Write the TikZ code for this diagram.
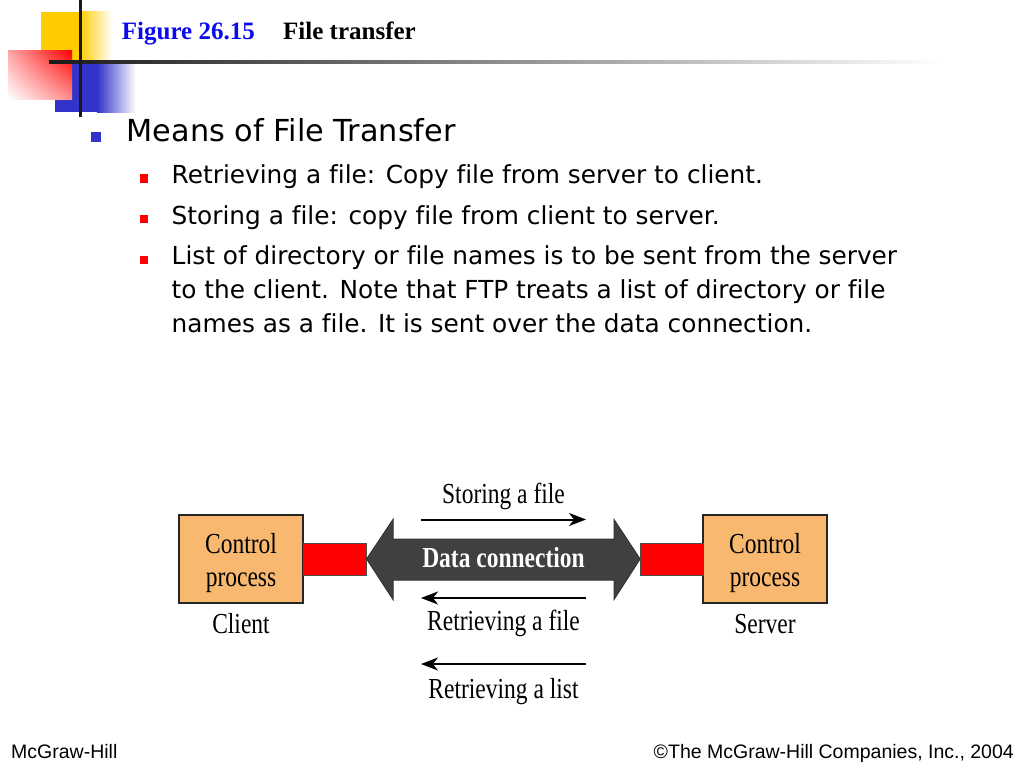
\documentclass[tikz,border=0pt]{standalone}
\usepackage{fontspec}
\setmainfont[Ligatures=NoCommon]{DejaVu Sans}
\newfontfamily\titlefont[Ligatures=NoCommon]{Liberation Serif}
\newfontfamily\figfont[FakeStretch=0.81,Ligatures=NoCommon]{Liberation Serif}
\newfontfamily\footfont{Liberation Sans}
\usetikzlibrary{arrows.meta,positioning,shadings}
\definecolor{decoyellow}{RGB}{255,204,0}
\definecolor{decoblue}{RGB}{51,51,204}
\definecolor{titleblue}{RGB}{10,10,240}
\definecolor{boxorange}{RGB}{248,184,112}
\definecolor{pipegray}{RGB}{64,64,64}
\begin{document}
\begin{tikzpicture}[x=1pt,y=-1pt,
    line/.style={anchor=base west,inner sep=0pt},
    subitem/.style={line,font=\fontsize{24.8}{34}\selectfont},
    figtext/.style={anchor=base,inner sep=0pt,font=\figfont\fontsize{29}{33}\selectfont},
    procbox/.style={draw=black!85,line width=1.2pt,fill=boxorange,minimum width=124pt,minimum height=88pt,inner sep=0pt},
    linkbox/.style={draw=black!70,line width=0.8pt,fill=red,minimum width=63pt,minimum height=32pt,inner sep=0pt},
    flow/.style={line width=2pt,-{Stealth[length=17pt,width=13pt,inset=5pt]}}]
    \useasboundingbox (0,0) rectangle (1024,768);
    \fill [white] (0,0) rectangle (1024,768);
    % title decoration
    \fill [decoyellow] (41,12) rectangle (80,60);
    \shade [left color=decoyellow,right color=white] (80,12) rectangle (112,60);
    \fill [decoblue] (55,63) rectangle (97,112);
    \shade [left color=decoblue,right color=white] (97,63) rectangle (136,112);
    \shade [upper right=red,upper left=red!35,lower right=red!45,lower left=white] (8,51) rectangle (72,99);
    \shade [left color=black!90,middle color=black!40,right color=white] (49,60) rectangle (940,63.5);
    \fill [black!90] (79,0) rectangle (82,117);
    \node [line,font=\titlefont\bfseries\fontsize{25}{30}\selectfont,text=titleblue] (fignum) at (121.7,40) {Figure 26.15};
    \node [line,font=\titlefont\bfseries\fontsize{25}{30}\selectfont] (figtitle) at (283,40) {File transfer};
    % bullets
    \fill [decoblue] (90.5,131.5) rectangle (100.5,141.5);
    \node [line,font=\fontsize{30.3}{36}\selectfont] (means) at (126.5,141.7) {Means of File Transfer};
    \fill [red] (139.5,174) rectangle (148,182.5);
    \fill [red] (139.5,214.5) rectangle (148,223);
    \fill [red] (139.5,255.5) rectangle (148,264);
    \node [subitem] (itemA) at (171.5,183.3) {Retrieving a file: Copy file from server to client.};
    \node [subitem] (itemB) at (171.5,224) {Storing a file: copy file from client to server.};
    \node [subitem] (itemC) at (171.5,264) {List of directory or file names is to be sent from the server};
    \node [subitem] (itemD) at (171.5,298.3) {to the client. Note that FTP treats a list of directory or file};
    \node [subitem] (itemE) at (171.5,332.6) {names as a file. It is sent over the data connection.};
    % figure
    \node [procbox] (client) at (241,559) {};
    \node [procbox] (server) at (765,559) {};
    \node [linkbox] (linkC) at (334.75,559) {};
    \node [linkbox] (linkS) at (672,559) {};
    \draw [draw=black!80,line width=1pt,fill=pipegray] (linkC.east) -- (393,519.5) -- (393,539) -- (614,539) -- (614,519.5)
        -- (linkS.west) -- (614,599.5) -- (614,580) -- (393,580) -- (393,599.5) -- cycle;
    \node [figtext,text=white,font=\figfont\bfseries\fontsize{29}{33}\selectfont] (data) at (503.5,567) {Data connection};
    \node [figtext] (ctrlC) at (241,553) {Control};
    \node [figtext] (procC) at (241,586) {process};
    \node [figtext] (ctrlS) at (765,553) {Control};
    \node [figtext] (procS) at (765,586) {process};
    \node [figtext] (clientL) at (241,633) {Client};
    \node [figtext] (serverL) at (765,633) {Server};
    \coordinate (storeA) at (421,519.5);
    \coordinate (storeB) at (586,519.5);
    \coordinate (fileA) at (586,598);
    \coordinate (fileB) at (421,598);
    \coordinate (listA) at (586,664);
    \coordinate (listB) at (421,664);
    \draw [flow] (storeA) -- (storeB);
    \draw [flow] (fileA) -- (fileB);
    \draw [flow] (listA) -- (listB);
    \node [figtext] (storeL) at (503.5,503) {Storing a file};
    \node [figtext] (fileL) at (503.5,630) {Retrieving a file};
    \node [figtext] (listL) at (503.5,698) {Retrieving a list};
    % footer
    \node [line,font=\footfont\fontsize{19.5}{23}\selectfont] (pub) at (11,758) {McGraw-Hill};
    \node [anchor=base east,inner sep=0pt,font=\footfont\fontsize{19.5}{23}\selectfont] (copy) at (1014,758) {©The McGraw-Hill Companies, Inc., 2004};
\end{tikzpicture}
\end{document}
